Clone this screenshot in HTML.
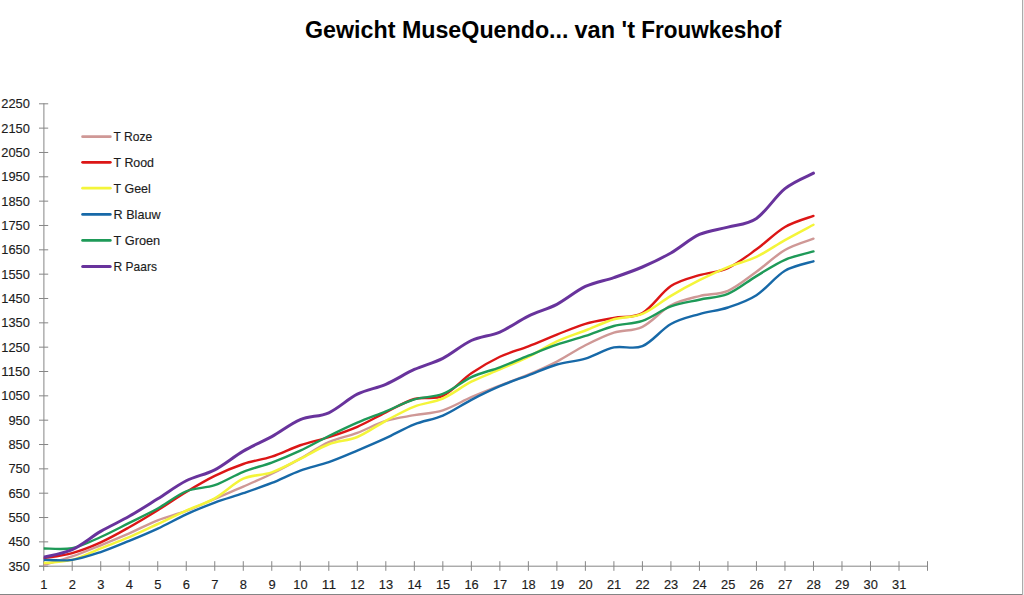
<!DOCTYPE html>
<html><head><meta charset="utf-8"><title>Gewicht MuseQuendo</title>
<style>
html,body{margin:0;padding:0;background:#fff;}
body{width:1024px;height:595px;overflow:hidden;}
svg{display:block;}
.lab{font-family:"Liberation Sans",Arial,sans-serif;font-size:13px;fill:#1c1c1c;stroke:#1c1c1c;stroke-width:0.15px;}
.ax{font-size:13.5px;}
.title{font-family:"Liberation Sans",Arial,sans-serif;font-size:23.5px;font-weight:bold;fill:#000;}
</style></head>
<body>
<svg width="1024" height="595" viewBox="0 0 1024 595">
<rect width="1024" height="595" fill="#fff"/>
<line x1="43.9" y1="103.3" x2="43.9" y2="566.7" stroke="#868686" stroke-width="1"/>
<line x1="39" y1="566.20" x2="927.51" y2="566.20" stroke="#868686" stroke-width="1"/>
<line x1="39" y1="566.20" x2="48.2" y2="566.20" stroke="#868686" stroke-width="1"/>
<line x1="39" y1="541.86" x2="48.2" y2="541.86" stroke="#868686" stroke-width="1"/>
<line x1="39" y1="517.53" x2="48.2" y2="517.53" stroke="#868686" stroke-width="1"/>
<line x1="39" y1="493.19" x2="48.2" y2="493.19" stroke="#868686" stroke-width="1"/>
<line x1="39" y1="468.85" x2="48.2" y2="468.85" stroke="#868686" stroke-width="1"/>
<line x1="39" y1="444.52" x2="48.2" y2="444.52" stroke="#868686" stroke-width="1"/>
<line x1="39" y1="420.18" x2="48.2" y2="420.18" stroke="#868686" stroke-width="1"/>
<line x1="39" y1="395.84" x2="48.2" y2="395.84" stroke="#868686" stroke-width="1"/>
<line x1="39" y1="371.51" x2="48.2" y2="371.51" stroke="#868686" stroke-width="1"/>
<line x1="39" y1="347.17" x2="48.2" y2="347.17" stroke="#868686" stroke-width="1"/>
<line x1="39" y1="322.83" x2="48.2" y2="322.83" stroke="#868686" stroke-width="1"/>
<line x1="39" y1="298.49" x2="48.2" y2="298.49" stroke="#868686" stroke-width="1"/>
<line x1="39" y1="274.16" x2="48.2" y2="274.16" stroke="#868686" stroke-width="1"/>
<line x1="39" y1="249.82" x2="48.2" y2="249.82" stroke="#868686" stroke-width="1"/>
<line x1="39" y1="225.48" x2="48.2" y2="225.48" stroke="#868686" stroke-width="1"/>
<line x1="39" y1="201.15" x2="48.2" y2="201.15" stroke="#868686" stroke-width="1"/>
<line x1="39" y1="176.81" x2="48.2" y2="176.81" stroke="#868686" stroke-width="1"/>
<line x1="39" y1="152.47" x2="48.2" y2="152.47" stroke="#868686" stroke-width="1"/>
<line x1="39" y1="128.14" x2="48.2" y2="128.14" stroke="#868686" stroke-width="1"/>
<line x1="39" y1="103.80" x2="48.2" y2="103.80" stroke="#868686" stroke-width="1"/>
<line x1="43.70" y1="561.2" x2="43.70" y2="570.8" stroke="#868686" stroke-width="1"/>
<line x1="72.21" y1="561.2" x2="72.21" y2="570.8" stroke="#868686" stroke-width="1"/>
<line x1="100.72" y1="561.2" x2="100.72" y2="570.8" stroke="#868686" stroke-width="1"/>
<line x1="129.23" y1="561.2" x2="129.23" y2="570.8" stroke="#868686" stroke-width="1"/>
<line x1="157.74" y1="561.2" x2="157.74" y2="570.8" stroke="#868686" stroke-width="1"/>
<line x1="186.25" y1="561.2" x2="186.25" y2="570.8" stroke="#868686" stroke-width="1"/>
<line x1="214.76" y1="561.2" x2="214.76" y2="570.8" stroke="#868686" stroke-width="1"/>
<line x1="243.27" y1="561.2" x2="243.27" y2="570.8" stroke="#868686" stroke-width="1"/>
<line x1="271.78" y1="561.2" x2="271.78" y2="570.8" stroke="#868686" stroke-width="1"/>
<line x1="300.29" y1="561.2" x2="300.29" y2="570.8" stroke="#868686" stroke-width="1"/>
<line x1="328.80" y1="561.2" x2="328.80" y2="570.8" stroke="#868686" stroke-width="1"/>
<line x1="357.31" y1="561.2" x2="357.31" y2="570.8" stroke="#868686" stroke-width="1"/>
<line x1="385.82" y1="561.2" x2="385.82" y2="570.8" stroke="#868686" stroke-width="1"/>
<line x1="414.33" y1="561.2" x2="414.33" y2="570.8" stroke="#868686" stroke-width="1"/>
<line x1="442.84" y1="561.2" x2="442.84" y2="570.8" stroke="#868686" stroke-width="1"/>
<line x1="471.35" y1="561.2" x2="471.35" y2="570.8" stroke="#868686" stroke-width="1"/>
<line x1="499.86" y1="561.2" x2="499.86" y2="570.8" stroke="#868686" stroke-width="1"/>
<line x1="528.37" y1="561.2" x2="528.37" y2="570.8" stroke="#868686" stroke-width="1"/>
<line x1="556.88" y1="561.2" x2="556.88" y2="570.8" stroke="#868686" stroke-width="1"/>
<line x1="585.39" y1="561.2" x2="585.39" y2="570.8" stroke="#868686" stroke-width="1"/>
<line x1="613.90" y1="561.2" x2="613.90" y2="570.8" stroke="#868686" stroke-width="1"/>
<line x1="642.41" y1="561.2" x2="642.41" y2="570.8" stroke="#868686" stroke-width="1"/>
<line x1="670.92" y1="561.2" x2="670.92" y2="570.8" stroke="#868686" stroke-width="1"/>
<line x1="699.43" y1="561.2" x2="699.43" y2="570.8" stroke="#868686" stroke-width="1"/>
<line x1="727.94" y1="561.2" x2="727.94" y2="570.8" stroke="#868686" stroke-width="1"/>
<line x1="756.45" y1="561.2" x2="756.45" y2="570.8" stroke="#868686" stroke-width="1"/>
<line x1="784.96" y1="561.2" x2="784.96" y2="570.8" stroke="#868686" stroke-width="1"/>
<line x1="813.47" y1="561.2" x2="813.47" y2="570.8" stroke="#868686" stroke-width="1"/>
<line x1="841.98" y1="561.2" x2="841.98" y2="570.8" stroke="#868686" stroke-width="1"/>
<line x1="870.49" y1="561.2" x2="870.49" y2="570.8" stroke="#868686" stroke-width="1"/>
<line x1="899.00" y1="561.2" x2="899.00" y2="570.8" stroke="#868686" stroke-width="1"/>
<line x1="927.51" y1="561.2" x2="927.51" y2="570.8" stroke="#868686" stroke-width="1"/>
<text class="lab ax" x="29.9" y="570.70" text-anchor="end" textLength="21.5" lengthAdjust="spacingAndGlyphs">350</text>
<text class="lab ax" x="29.9" y="546.36" text-anchor="end" textLength="21.5" lengthAdjust="spacingAndGlyphs">450</text>
<text class="lab ax" x="29.9" y="522.03" text-anchor="end" textLength="21.5" lengthAdjust="spacingAndGlyphs">550</text>
<text class="lab ax" x="29.9" y="497.69" text-anchor="end" textLength="21.5" lengthAdjust="spacingAndGlyphs">650</text>
<text class="lab ax" x="29.9" y="473.35" text-anchor="end" textLength="21.5" lengthAdjust="spacingAndGlyphs">750</text>
<text class="lab ax" x="29.9" y="449.02" text-anchor="end" textLength="21.5" lengthAdjust="spacingAndGlyphs">850</text>
<text class="lab ax" x="29.9" y="424.68" text-anchor="end" textLength="21.5" lengthAdjust="spacingAndGlyphs">950</text>
<text class="lab ax" x="29.9" y="400.34" text-anchor="end" textLength="28.6" lengthAdjust="spacingAndGlyphs">1050</text>
<text class="lab ax" x="29.9" y="376.01" text-anchor="end" textLength="28.6" lengthAdjust="spacingAndGlyphs">1150</text>
<text class="lab ax" x="29.9" y="351.67" text-anchor="end" textLength="28.6" lengthAdjust="spacingAndGlyphs">1250</text>
<text class="lab ax" x="29.9" y="327.33" text-anchor="end" textLength="28.6" lengthAdjust="spacingAndGlyphs">1350</text>
<text class="lab ax" x="29.9" y="302.99" text-anchor="end" textLength="28.6" lengthAdjust="spacingAndGlyphs">1450</text>
<text class="lab ax" x="29.9" y="278.66" text-anchor="end" textLength="28.6" lengthAdjust="spacingAndGlyphs">1550</text>
<text class="lab ax" x="29.9" y="254.32" text-anchor="end" textLength="28.6" lengthAdjust="spacingAndGlyphs">1650</text>
<text class="lab ax" x="29.9" y="229.98" text-anchor="end" textLength="28.6" lengthAdjust="spacingAndGlyphs">1750</text>
<text class="lab ax" x="29.9" y="205.65" text-anchor="end" textLength="28.6" lengthAdjust="spacingAndGlyphs">1850</text>
<text class="lab ax" x="29.9" y="181.31" text-anchor="end" textLength="28.6" lengthAdjust="spacingAndGlyphs">1950</text>
<text class="lab ax" x="29.9" y="156.97" text-anchor="end" textLength="28.6" lengthAdjust="spacingAndGlyphs">2050</text>
<text class="lab ax" x="29.9" y="132.64" text-anchor="end" textLength="28.6" lengthAdjust="spacingAndGlyphs">2150</text>
<text class="lab ax" x="29.9" y="108.30" text-anchor="end" textLength="28.6" lengthAdjust="spacingAndGlyphs">2250</text>
<text class="lab ax" x="43.90" y="589.3" text-anchor="middle" textLength="7.2" lengthAdjust="spacingAndGlyphs">1</text>
<text class="lab ax" x="72.41" y="589.3" text-anchor="middle" textLength="7.2" lengthAdjust="spacingAndGlyphs">2</text>
<text class="lab ax" x="100.92" y="589.3" text-anchor="middle" textLength="7.2" lengthAdjust="spacingAndGlyphs">3</text>
<text class="lab ax" x="129.43" y="589.3" text-anchor="middle" textLength="7.2" lengthAdjust="spacingAndGlyphs">4</text>
<text class="lab ax" x="157.94" y="589.3" text-anchor="middle" textLength="7.2" lengthAdjust="spacingAndGlyphs">5</text>
<text class="lab ax" x="186.45" y="589.3" text-anchor="middle" textLength="7.2" lengthAdjust="spacingAndGlyphs">6</text>
<text class="lab ax" x="214.96" y="589.3" text-anchor="middle" textLength="7.2" lengthAdjust="spacingAndGlyphs">7</text>
<text class="lab ax" x="243.47" y="589.3" text-anchor="middle" textLength="7.2" lengthAdjust="spacingAndGlyphs">8</text>
<text class="lab ax" x="271.98" y="589.3" text-anchor="middle" textLength="7.2" lengthAdjust="spacingAndGlyphs">9</text>
<text class="lab ax" x="300.49" y="589.3" text-anchor="middle" textLength="14.3" lengthAdjust="spacingAndGlyphs">10</text>
<text class="lab ax" x="329.00" y="589.3" text-anchor="middle" textLength="14.3" lengthAdjust="spacingAndGlyphs">11</text>
<text class="lab ax" x="357.51" y="589.3" text-anchor="middle" textLength="14.3" lengthAdjust="spacingAndGlyphs">12</text>
<text class="lab ax" x="386.02" y="589.3" text-anchor="middle" textLength="14.3" lengthAdjust="spacingAndGlyphs">13</text>
<text class="lab ax" x="414.53" y="589.3" text-anchor="middle" textLength="14.3" lengthAdjust="spacingAndGlyphs">14</text>
<text class="lab ax" x="443.04" y="589.3" text-anchor="middle" textLength="14.3" lengthAdjust="spacingAndGlyphs">15</text>
<text class="lab ax" x="471.55" y="589.3" text-anchor="middle" textLength="14.3" lengthAdjust="spacingAndGlyphs">16</text>
<text class="lab ax" x="500.06" y="589.3" text-anchor="middle" textLength="14.3" lengthAdjust="spacingAndGlyphs">17</text>
<text class="lab ax" x="528.57" y="589.3" text-anchor="middle" textLength="14.3" lengthAdjust="spacingAndGlyphs">18</text>
<text class="lab ax" x="557.08" y="589.3" text-anchor="middle" textLength="14.3" lengthAdjust="spacingAndGlyphs">19</text>
<text class="lab ax" x="585.59" y="589.3" text-anchor="middle" textLength="14.3" lengthAdjust="spacingAndGlyphs">20</text>
<text class="lab ax" x="614.10" y="589.3" text-anchor="middle" textLength="14.3" lengthAdjust="spacingAndGlyphs">21</text>
<text class="lab ax" x="642.61" y="589.3" text-anchor="middle" textLength="14.3" lengthAdjust="spacingAndGlyphs">22</text>
<text class="lab ax" x="671.12" y="589.3" text-anchor="middle" textLength="14.3" lengthAdjust="spacingAndGlyphs">23</text>
<text class="lab ax" x="699.63" y="589.3" text-anchor="middle" textLength="14.3" lengthAdjust="spacingAndGlyphs">24</text>
<text class="lab ax" x="728.14" y="589.3" text-anchor="middle" textLength="14.3" lengthAdjust="spacingAndGlyphs">25</text>
<text class="lab ax" x="756.65" y="589.3" text-anchor="middle" textLength="14.3" lengthAdjust="spacingAndGlyphs">26</text>
<text class="lab ax" x="785.16" y="589.3" text-anchor="middle" textLength="14.3" lengthAdjust="spacingAndGlyphs">27</text>
<text class="lab ax" x="813.67" y="589.3" text-anchor="middle" textLength="14.3" lengthAdjust="spacingAndGlyphs">28</text>
<text class="lab ax" x="842.18" y="589.3" text-anchor="middle" textLength="14.3" lengthAdjust="spacingAndGlyphs">29</text>
<text class="lab ax" x="870.69" y="589.3" text-anchor="middle" textLength="14.3" lengthAdjust="spacingAndGlyphs">30</text>
<text class="lab ax" x="899.20" y="589.3" text-anchor="middle" textLength="14.3" lengthAdjust="spacingAndGlyphs">31</text>
<defs><clipPath id="pa"><rect x="43.7" y="90" width="900" height="490"/></clipPath></defs>
<g clip-path="url(#pa)">
<path d="M43.70 564.98 C48.45 563.56 62.71 559.75 72.21 556.47 C81.71 553.18 91.22 549.12 100.72 545.27 C110.22 541.42 119.73 537.51 129.23 533.35 C138.73 529.18 148.24 524.03 157.74 520.30 C167.24 516.57 176.75 514.54 186.25 510.96 C195.75 507.37 205.26 502.84 214.76 498.79 C224.26 494.73 233.77 490.80 243.27 486.62 C252.77 482.44 262.28 478.38 271.78 473.72 C281.28 469.06 290.79 463.90 300.29 458.63 C309.79 453.36 319.30 446.38 328.80 442.08 C338.30 437.78 347.81 436.36 357.31 432.83 C366.81 429.31 376.32 423.85 385.82 420.91 C395.32 417.97 404.83 416.96 414.33 415.19 C423.83 413.42 433.34 413.30 442.84 410.30 C452.34 407.30 461.85 401.32 471.35 397.20 C480.85 393.09 490.36 389.38 499.86 385.62 C509.36 381.86 518.87 378.67 528.37 374.67 C537.87 370.67 547.38 366.50 556.88 361.60 C566.38 356.70 575.89 350.12 585.39 345.29 C594.89 340.47 604.40 335.74 613.90 332.66 C623.40 329.59 632.91 331.38 642.41 326.82 C651.91 322.26 661.42 310.44 670.92 305.31 C680.42 300.18 689.93 298.48 699.43 296.06 C708.93 293.64 718.44 294.86 727.94 290.80 C737.44 286.75 746.95 278.53 756.45 271.72 C765.95 264.92 775.46 255.49 784.96 249.99 C794.46 244.49 808.72 240.60 813.47 238.72" fill="none" stroke="#CF9896" stroke-width="2.40" stroke-linecap="round" stroke-linejoin="round"/>
<path d="M43.70 558.17 C48.45 557.32 62.71 555.69 72.21 553.06 C81.71 550.42 91.22 546.65 100.72 542.35 C110.22 538.05 119.73 532.62 129.23 527.26 C138.73 521.91 148.24 516.11 157.74 510.23 C167.24 504.34 176.75 497.69 186.25 491.97 C195.75 486.25 205.26 480.57 214.76 475.91 C224.26 471.25 233.77 467.21 243.27 463.99 C252.77 460.76 262.28 459.71 271.78 456.59 C281.28 453.46 290.79 448.49 300.29 445.25 C309.79 442.00 319.30 440.17 328.80 437.09 C338.30 434.02 347.81 430.92 357.31 426.80 C366.81 422.68 376.32 417.02 385.82 412.39 C395.32 407.76 404.83 401.76 414.33 399.01 C423.83 396.26 433.34 400.17 442.84 395.89 C452.34 391.61 461.85 379.82 471.35 373.31 C480.85 366.79 490.36 361.28 499.86 356.78 C509.36 352.28 518.87 350.00 528.37 346.32 C537.87 342.63 547.38 338.44 556.88 334.68 C566.38 330.93 575.89 326.59 585.39 323.81 C594.89 321.02 604.40 319.75 613.90 317.96 C623.40 316.18 632.91 318.41 642.41 313.10 C651.91 307.79 661.42 292.42 670.92 286.11 C680.42 279.80 689.93 278.23 699.43 275.23 C708.93 272.22 718.44 272.39 727.94 268.07 C737.44 263.76 746.95 256.18 756.45 249.33 C765.95 242.49 775.46 232.57 784.96 226.99 C794.46 221.42 808.72 217.75 813.47 215.90" fill="none" stroke="#DC1616" stroke-width="2.40" stroke-linecap="round" stroke-linejoin="round"/>
<path d="M43.70 563.04 C48.45 562.51 62.71 562.33 72.21 559.87 C81.71 557.42 91.22 552.10 100.72 548.31 C110.22 544.52 119.73 541.17 129.23 537.12 C138.73 533.07 148.24 528.42 157.74 524.00 C167.24 519.58 176.75 514.87 186.25 510.59 C195.75 506.31 205.26 503.61 214.76 498.30 C224.26 492.99 233.77 483.04 243.27 478.71 C252.77 474.38 262.28 475.61 271.78 472.31 C281.28 469.00 290.79 463.55 300.29 458.87 C309.79 454.20 319.30 447.92 328.80 444.27 C338.30 440.62 347.81 440.89 357.31 436.97 C366.81 433.06 376.32 425.86 385.82 420.79 C395.32 415.72 404.83 410.26 414.33 406.55 C423.83 402.84 433.34 402.66 442.84 398.52 C452.34 394.38 461.85 386.58 471.35 381.73 C480.85 376.88 490.36 373.55 499.86 369.41 C509.36 365.28 518.87 361.57 528.37 356.90 C537.87 352.23 547.38 345.80 556.88 341.40 C566.38 337.00 575.89 334.18 585.39 330.50 C594.89 326.81 604.40 322.06 613.90 319.28 C623.40 316.50 632.91 317.74 642.41 313.83 C651.91 309.92 661.42 301.42 670.92 295.82 C680.42 290.22 689.93 285.03 699.43 280.24 C708.93 275.46 718.44 270.99 727.94 267.10 C737.44 263.21 746.95 261.38 756.45 256.88 C765.95 252.38 775.46 245.44 784.96 240.09 C794.46 234.73 808.72 227.31 813.47 224.75" fill="none" stroke="#F4F53A" stroke-width="2.50" stroke-linecap="round" stroke-linejoin="round"/>
<path d="M43.70 559.87 C48.45 559.87 62.71 561.17 72.21 559.87 C81.71 558.57 91.22 555.25 100.72 552.08 C110.22 548.92 119.73 544.80 129.23 540.89 C138.73 536.98 148.24 533.02 157.74 528.60 C167.24 524.18 176.75 518.71 186.25 514.36 C195.75 510.01 205.26 506.04 214.76 502.51 C224.26 498.98 233.77 496.45 243.27 493.19 C252.77 489.93 262.28 486.74 271.78 482.97 C281.28 479.20 290.79 474.03 300.29 470.56 C309.79 467.08 319.30 465.44 328.80 462.11 C338.30 458.79 347.81 454.59 357.31 450.60 C366.81 446.61 376.32 442.57 385.82 438.19 C395.32 433.81 404.83 428.08 414.33 424.32 C423.83 420.55 433.34 419.68 442.84 415.60 C452.34 411.52 461.85 404.73 471.35 399.83 C480.85 394.93 490.36 390.29 499.86 386.20 C509.36 382.12 518.87 378.92 528.37 375.30 C537.87 371.68 547.38 367.26 556.88 364.50 C566.38 361.73 575.89 361.55 585.39 358.70 C594.89 355.86 604.40 349.50 613.90 347.41 C623.40 345.33 632.91 350.09 642.41 346.19 C651.91 342.30 661.42 329.40 670.92 324.05 C680.42 318.69 689.93 316.83 699.43 314.07 C708.93 311.31 718.44 310.64 727.94 307.50 C737.44 304.36 746.95 301.33 756.45 295.21 C765.95 289.08 775.46 276.40 784.96 270.75 C794.46 265.10 808.72 262.88 813.47 261.31" fill="none" stroke="#1769A8" stroke-width="2.40" stroke-linecap="round" stroke-linejoin="round"/>
<path d="M43.70 548.43 C48.45 548.39 62.71 550.10 72.21 548.19 C81.71 546.28 91.22 541.21 100.72 537.00 C110.22 532.78 119.73 527.63 129.23 522.88 C138.73 518.13 148.24 513.79 157.74 508.52 C167.24 503.25 176.75 495.14 186.25 491.24 C195.75 487.35 205.26 488.40 214.76 485.16 C224.26 481.91 233.77 475.55 243.27 471.77 C252.77 468.00 262.28 466.05 271.78 462.53 C281.28 459.00 290.79 455.02 300.29 450.60 C309.79 446.18 319.30 440.66 328.80 436.00 C338.30 431.33 347.81 426.73 357.31 422.61 C366.81 418.50 376.32 415.17 385.82 411.30 C395.32 407.42 404.83 402.23 414.33 399.35 C423.83 396.46 433.34 397.70 442.84 393.99 C452.34 390.29 461.85 381.56 471.35 377.10 C480.85 372.65 490.36 370.84 499.86 367.27 C509.36 363.70 518.87 359.44 528.37 355.69 C537.87 351.93 547.38 348.02 556.88 344.73 C566.38 341.45 575.89 339.10 585.39 335.97 C594.89 332.85 604.40 328.51 613.90 326.00 C623.40 323.48 632.91 324.15 642.41 320.88 C651.91 317.62 661.42 309.93 670.92 306.40 C680.42 302.88 689.93 301.80 699.43 299.71 C708.93 297.62 718.44 297.81 727.94 293.87 C737.44 289.94 746.95 281.78 756.45 276.10 C765.95 270.43 775.46 263.92 784.96 259.80 C794.46 255.68 808.72 252.80 813.47 251.40" fill="none" stroke="#1E9A58" stroke-width="2.40" stroke-linecap="round" stroke-linejoin="round"/>
<path d="M43.70 557.20 C48.45 555.94 62.71 553.95 72.21 549.65 C81.71 545.35 91.22 536.96 100.72 531.40 C110.22 525.84 119.73 521.74 129.23 516.31 C138.73 510.87 148.24 504.71 157.74 498.79 C167.24 492.86 176.75 485.60 186.25 480.78 C195.75 475.95 205.26 474.77 214.76 469.83 C224.26 464.88 233.77 456.63 243.27 451.09 C252.77 445.55 262.28 441.83 271.78 436.58 C281.28 431.33 290.79 423.56 300.29 419.59 C309.79 415.63 319.30 417.01 328.80 412.78 C338.30 408.55 347.81 398.96 357.31 394.21 C366.81 389.46 376.32 388.40 385.82 384.28 C395.32 380.16 404.83 373.81 414.33 369.49 C423.83 365.17 433.34 363.19 442.84 358.36 C452.34 353.53 461.85 344.89 471.35 340.50 C480.85 336.11 490.36 336.07 499.86 332.01 C509.36 327.94 518.87 320.73 528.37 316.11 C537.87 311.50 547.38 309.28 556.88 304.34 C566.38 299.40 575.89 290.93 585.39 286.47 C594.89 282.01 604.40 280.81 613.90 277.57 C623.40 274.32 632.91 271.10 642.41 267.00 C651.91 262.91 661.42 258.40 670.92 252.98 C680.42 247.57 689.93 238.80 699.43 234.49 C708.93 230.18 718.44 229.79 727.94 227.11 C737.44 224.44 746.95 224.84 756.45 218.43 C765.95 212.01 775.46 196.16 784.96 188.61 C794.46 181.07 808.72 175.74 813.47 173.16" fill="none" stroke="#68339C" stroke-width="3.00" stroke-linecap="round" stroke-linejoin="round"/>
</g>
<line x1="82.60" y1="136.70" x2="110.30" y2="136.70" stroke="#CF9896" stroke-width="2.80" stroke-linecap="round"/>
<text class="lab" x="113.6" y="141.30" textLength="38.6" lengthAdjust="spacingAndGlyphs">T Roze</text>
<line x1="82.60" y1="162.30" x2="110.30" y2="162.30" stroke="#DC1616" stroke-width="2.80" stroke-linecap="round"/>
<text class="lab" x="113.6" y="166.90" textLength="40.4" lengthAdjust="spacingAndGlyphs">T Rood</text>
<line x1="82.60" y1="188.20" x2="110.30" y2="188.20" stroke="#F4F53A" stroke-width="2.80" stroke-linecap="round"/>
<text class="lab" x="113.6" y="192.80" textLength="37.2" lengthAdjust="spacingAndGlyphs">T Geel</text>
<line x1="82.60" y1="214.40" x2="110.30" y2="214.40" stroke="#1769A8" stroke-width="2.80" stroke-linecap="round"/>
<text class="lab" x="113.6" y="219.00" textLength="46.9" lengthAdjust="spacingAndGlyphs">R Blauw</text>
<line x1="82.60" y1="240.40" x2="110.30" y2="240.40" stroke="#1E9A58" stroke-width="2.80" stroke-linecap="round"/>
<text class="lab" x="113.6" y="245.00" textLength="46.6" lengthAdjust="spacingAndGlyphs">T Groen</text>
<line x1="82.70" y1="266.50" x2="110.20" y2="266.50" stroke="#68339C" stroke-width="3.00" stroke-linecap="round"/>
<text class="lab" x="113.6" y="271.10" textLength="43.3" lengthAdjust="spacingAndGlyphs">R Paars</text>
<text class="title" y="38.3"><tspan x="305.00" textLength="263.50" lengthAdjust="spacingAndGlyphs">Gewicht MuseQuendo...</tspan> <tspan x="574.50" textLength="60.50" lengthAdjust="spacingAndGlyphs">van 't</tspan> <tspan x="641.20" textLength="140.00" lengthAdjust="spacingAndGlyphs">Frouwkeshof</tspan></text>
<rect x="1022" y="0" width="1" height="595" fill="#ababab"/>
<rect x="1023" y="0" width="1" height="595" fill="#ececec"/>
<rect x="0" y="594" width="1022" height="1" fill="#858585"/>
</svg>
</body></html>
